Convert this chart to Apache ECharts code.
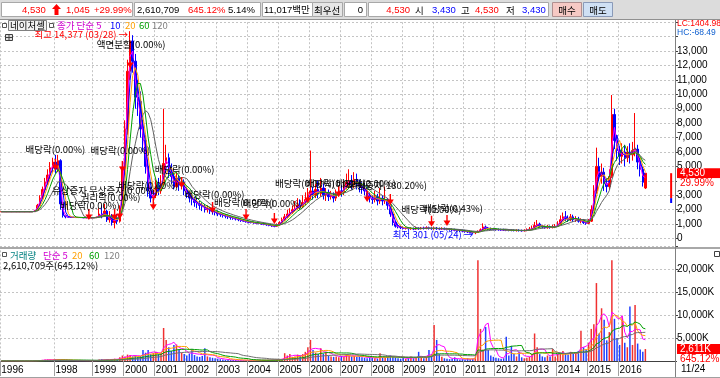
<!DOCTYPE html>
<html><head><meta charset="utf-8">
<script src="https://cdn.jsdelivr.net/npm/echarts@6/dist/echarts.min.js"></script>
<style>html,body{margin:0;padding:0;background:#fff}#c{width:720px;height:378px}</style>
</head><body><div id="c"></div>
<script>
// ---------- categories / tick labels ----------
const yearList = [1996,1997,1998,1999,2000,2001,2002,2003,2004,2005,2006,2007,2008,2009,2010,2011,2012,2013,2014,2015,2016];
const periodsPerYear = [10,11,15,12,12,12,12,12,12,12,12,12,12,12,12,12,12,12,12,12,11];
const labeledYears = [1996,1998,1999,2000,2001,2002,2003,2004,2005,2006,2007,2008,2009,2010,2011,2012,2013,2014,2015,2016];
const padPeriods = 11;
const lastDateLabel = '11/24';

// ---------- price (won) ----------
const priceOpen = [
1860,1860,1860,1860,1860,1860,1860,1860,1860,1860,
1860,1860,1860,1860,1950,2300,2800,3400,3900,4400,
4900,5300,4800,5400,2400,1600,1500,1480,1470,1460,
1450,1460,1450,1440,1450,1430,1440,1450,1480,1700,
1600,1900,1300,1500,1100,1400,1200,2100,4800,7600,
11600,13700,12300,9800,9500,7600,6800,5000,3300,2800,
3000,3700,3300,3800,5200,5600,4600,4300,3600,4200,
3700,3900,3300,3100,2800,2700,2500,2400,2300,2200,
2000,2100,1900,1850,1800,1700,1650,1600,1550,1500,
1450,1400,1350,1300,1250,1200,1150,1120,1100,1080,
1060,1040,1000,980,950,900,860,850,950,1100,
1300,1500,1700,1800,2000,2100,2300,2200,2500,2700,
3000,3300,3000,3400,3100,3500,3000,3200,2900,3000,
2800,3100,3300,3200,3600,3900,4000,3700,4100,3800,
3600,3500,3300,3000,2800,2700,2900,2600,2800,2600,
2700,2300,1700,1100,850,800,750,700,720,680,
700,660,700,680,720,700,740,700,680,720,
680,660,700,650,640,620,600,580,560,540,
520,480,460,430,400,420,500,600,800,700,
680,660,640,620,610,600,590,580,570,560,
550,560,550,540,560,600,650,700,900,1000,
850,800,750,800,760,800,850,1000,1300,1500,
1400,1300,1500,1300,1350,1200,1250,1100,1050,1200,
2000,3300,5000,4300,4600,3800,3600,4300,8600,6800,
6100,5700,6000,5600,6000,5800,6100,6200,5300,4800,
3500];
const priceClose = [
1860,1860,1860,1860,1860,1860,1860,1860,1860,1860,
1860,1860,1860,1950,2300,2800,3400,3900,4400,4900,
5300,4800,5400,2400,1600,1500,1480,1470,1460,1450,
1460,1450,1440,1450,1430,1440,1450,1480,1700,1600,
1900,1300,1500,1100,1400,1200,2100,4800,7600,11600,
13700,12300,9800,9500,7600,6800,5000,3300,2800,3000,
3700,3300,3800,5200,5600,4600,4300,3600,4200,3700,
3900,3300,3100,2800,2700,2500,2400,2300,2200,2000,
2100,1900,1850,1800,1700,1650,1600,1550,1500,1450,
1400,1350,1300,1250,1200,1150,1120,1100,1080,1060,
1040,1000,980,950,900,860,850,950,1100,1300,
1500,1700,1800,2000,2100,2300,2200,2500,2700,3000,
3300,3000,3400,3100,3500,3000,3200,2900,3000,2800,
3100,3300,3200,3600,3900,4000,3700,4100,3800,3600,
3500,3300,3000,2800,2700,2900,2600,2800,2600,2700,
2300,1700,1100,850,800,750,700,720,680,700,
660,700,680,720,700,740,700,680,720,680,
660,700,650,640,620,600,580,560,540,520,
480,460,430,400,420,500,600,800,700,680,
660,640,620,610,600,590,580,570,560,550,
560,550,540,560,600,650,700,900,1000,850,
800,750,800,760,800,850,1000,1300,1500,1400,
1300,1500,1300,1350,1200,1250,1100,1050,1200,2000,
3300,5000,4300,4600,3800,3600,4300,8600,6800,6100,
5700,6000,5600,6000,5800,6100,6200,5300,4800,3900,
4530];
const priceLow = [
1860,1860,1860,1860,1860,1860,1860,1860,1860,1860,
1860,1860,1860,1860,1900,2250,2700,3300,3700,4100,
4600,4500,4600,2000,1450,1400,1430,1440,1420,1420,
1420,1420,1410,1400,1400,1400,1410,1420,1450,1400,
1500,1150,1100,900,700,1000,1100,2000,4500,7200,
11000,11500,9000,8500,7000,6000,4500,2900,2500,2400,
2800,3000,3100,3600,4700,4200,3800,3400,3500,3300,
3400,3000,2800,2500,2300,2200,2100,2000,1900,1800,
1800,1700,1650,1600,1550,1500,1450,1400,1350,1300,
1300,1250,1200,1150,1150,1100,1050,1050,1020,1000,
980,950,920,880,850,800,780,800,900,1050,
1200,1400,1550,1700,1850,2000,2000,2100,2300,2500,
2700,2700,2800,2800,2900,2700,2600,2600,2700,2500,
2600,2900,2900,3000,3400,3500,3400,3500,3400,3200,
3100,3000,2700,2500,2400,2500,2300,2400,2300,2400,
2000,1500,900,750,700,650,620,620,600,600,
580,600,600,620,620,640,620,600,600,600,
580,600,580,560,540,520,500,480,450,430,
400,380,350,320,301,400,450,550,600,600,
580,560,540,540,530,520,510,500,500,490,
480,480,470,480,500,550,600,650,800,750,
700,680,680,680,700,720,800,950,1200,1200,
1150,1200,1150,1150,1100,1050,1000,950,1000,1150,
1900,3100,4000,3800,3300,3200,3400,4200,6200,5400,
5100,5200,5000,5300,5200,5400,5700,4800,4300,3600,
3430];
const priceHigh = [
1860,1860,1860,1860,1860,1860,1860,1860,1860,1860,
1860,1860,1860,1980,2400,3000,3600,4200,4800,5300,
5600,5800,5800,5500,2500,1650,1520,1500,1500,1480,
1490,1480,1470,1470,1470,1460,1480,1520,2100,2300,
2400,2000,1900,1700,1500,1700,2300,5100,8200,12400,
14377,14100,12800,11000,10200,8200,7200,5400,3600,3400,
4100,4200,4400,9000,6500,5900,5200,4800,4600,4400,
4200,4100,3600,3300,3000,2900,2800,2600,2500,2400,
2300,2200,2000,2100,1950,1800,1750,1700,1650,1600,
1550,1500,1450,1400,1350,1300,1250,1200,1180,1150,
1130,1100,1080,1050,1000,950,920,1050,1200,1450,
1700,2000,2100,2300,2600,2800,2700,3000,3200,3500,
6100,3600,3800,4000,4200,3800,3500,3400,3300,3200,
3400,3600,3700,4000,4500,4800,4400,4600,4500,4100,
3900,3800,3600,3200,3000,3300,3100,3500,3000,3600,
2800,2400,1800,1200,950,900,850,800,780,780,
760,820,780,800,820,850,820,780,820,800,
760,780,760,740,720,700,680,650,640,620,
600,560,520,500,480,560,700,1050,900,800,
760,740,720,700,680,680,660,650,640,630,
640,640,620,640,700,800,900,1150,1280,1100,
950,900,950,900,950,1000,1200,1600,1800,1900,
1600,1700,1650,1550,1500,1400,1350,1200,1350,2300,
3700,6300,5600,5200,4900,4200,4800,9950,9000,7200,
6400,6600,6500,6400,6600,6700,8700,6500,5500,5000,
4530];

// ---------- volume (thousand shares) ----------
const volumeK = [
20,20,20,20,20,20,20,20,20,20,
20,20,20,100,150,200,250,300,350,300,
250,400,300,300,200,100,80,80,80,80,
80,80,80,80,80,80,100,150,300,400,
300,350,250,400,500,400,800,1200,1000,1400,
1300,1000,1200,900,1100,2400,1800,2400,1500,1700,
2000,1500,1800,7200,4600,3000,2200,3500,3600,2500,
1800,1500,1200,1600,2600,1300,1000,900,1100,2800,
1000,800,700,600,500,400,300,250,250,200,
200,200,150,150,150,150,150,150,150,150,
150,150,200,200,200,250,300,350,400,500,
1700,1200,1500,900,1000,1400,1200,1500,2000,3000,
4600,2400,1800,1500,2800,1600,2000,1200,1000,900,
1000,800,1100,900,1500,1200,1000,1100,900,1000,
800,700,600,800,700,600,500,1700,800,700,
900,1200,1000,800,600,500,700,500,600,1000,
600,700,2000,800,600,1000,2400,1500,7850,4600,
1500,900,600,500,400,500,800,400,300,400,
300,600,400,500,800,22000,7000,2500,7400,2400,
1200,900,700,600,500,600,5300,1200,3300,1500,
1000,2000,800,600,700,900,1500,6000,3000,1500,
1000,800,1200,1000,2600,1000,1500,1800,2200,1600,
1400,2000,1500,1800,2200,6600,3000,2500,4000,7000,
8000,17000,6000,11500,9000,4500,6300,22000,9200,5000,
3500,9700,4000,3000,11900,3500,12200,3800,2500,2000,
2611];

// ---------- today range marker ----------
const rangeMarkerLow = 2460, rangeMarkerMid = 2800, rangeMarkerHigh = 4530;

// ---------- header values ----------
const hdr = {price:'4,530', diff:'1,045', pct:'+29.99%', vol:'2,610,709', volPct:'645.12%', turn:'5.14%',
  amount:'11,017백만', best:'0', cur:'4,530', open:'3,430', high:'4,530', low:'3,430', volBadge:'2,611K'};
const priceHighNote = '최고 14,377 (03/28) →';
const priceLowNote = '최저 301 (05/24) →';
const highIdx = 50, lowIdx = 184;

// ---------- annotations (date index, value at arrow tip, text) ----------
const annotIndex = [21,47,50,34,44,46,59,70,82,95,106,119,131,142,151,167,173];
const annotValue = [4750,4610,11820,1280,1280,1350,2000,3500,1770,1280,1000,2460,2880,2530,2320,820,870];
const annotText = ['배당락(0.00%)','배당락(0.00%)','액면분할(0.00%)','배당락(0.00%)','권리락(0.00%)','유상증자 무상증자(0.00%)',
 '배당락(0.00%)','배당락(0.00%)','배당락(0.00%)','배당락(0.00%)','배당락(0.00%)','배당락(0.00%)','배당락(0.00%)',
 '배당락(0.00%)','무상증자(180.20%)','배당락(0.00%)','배당락(0.43%)'];
const annotLabelOffset = [[0,-3],[-2,-4],[1,-6],[1,3],[-4,-5],[-15,-11],[-5,-7],[3,-1],[2,-1],[-2,0],[-2,-3],[-3,-2],[-3,4],[-1,-1],[-3,-2],[0,0],[6,0]];

// ---------- build ----------
const categories = [];
const yearStart = {};
yearList.forEach((y,k)=>{ yearStart[y]=categories.length; for(let m=0;m<periodsPerYear[k];m++) categories.push(y+'-'+(m+1)); });
for (let p=0;p<padPeriods;p++) categories.push('pad'+p);
const labelSet = new Set(labeledYears.map(y=>yearStart[y]));
const isYear = (i)=>labelSet.has(i);

function sma(src, span){ return src.map((_,i)=>{ const s=Math.max(0,i-span+1); let t=0; for(let k=s;k<=i;k++) t+=src[k]; return Math.round(t/(i-s+1)); }); }

const candleData = priceOpen.map((o,i)=>[o, priceClose[i], priceLow[i], priceHigh[i]]);
const volData = volumeK.map((v,i)=>({value:v, itemStyle:{color: priceClose[i]>=priceOpen[i] ? '#f03030' : '#2040ff'}}));
const rangeIdx = categories.length - 2;
const rngBase = categories.map((_,i)=> i===rangeIdx ? rangeMarkerLow : null);
const rngBlue = categories.map((_,i)=> i===rangeIdx ? rangeMarkerMid-rangeMarkerLow : null);
const rngRed = categories.map((_,i)=> i===rangeIdx ? rangeMarkerHigh-rangeMarkerMid : null);

const FONT = 'Noto Sans CJK KR';
const NUMFONT = '"Liberation Sans", "Noto Sans CJK KR"';
const priceMA = [{n:'5',span:2,c:'#ff00ff'},{n:'10',span:3,c:'#0000ff'},{n:'20',span:4,c:'#ffa000'},{n:'60',span:6,c:'#00a000'},{n:'120',span:10,c:'#606060'}];
const volMA = [{n:'5',span:5,c:'#ff00ff'},{n:'20',span:10,c:'#ffa000'},{n:'60',span:18,c:'#00a000'},{n:'120',span:30,c:'#707070'}];

const PX1000 = 14.42, Y0 = 238.5;      // price panel geometry
const VPX1000 = 4.585, VY0 = 361;      // volume panel geometry
const downArrow = 'path://M4,0 L6,0 L6,6 L10,6 L5,12 L0,6 L4,6 Z';

const markData = annotIndex.map((idx,k)=>({
  coord:[categories[idx], annotValue[k]], symbol: downArrow, symbolSize:[7,11], symbolOffset:[0,'-50%'],
  itemStyle:{color:'#ff0000'},
  label:{show:true, position:'top', distance:2, offset:annotLabelOffset[k], formatter:annotText[k], color:'#000', fontSize:9.5, fontFamily:FONT}
}));
markData.push({coord:[categories[highIdx], priceHigh[highIdx]], symbol:'circle', symbolSize:0.1, itemStyle:{color:'rgba(0,0,0,0)'},
  label:{show:true, position:'left', distance:2, offset:[0,3], formatter:priceHighNote, color:'#ff0000', fontSize:9.5, fontFamily:FONT}});
markData.push({coord:[categories[lowIdx], priceLow[lowIdx]], symbol:'circle', symbolSize:0.1, itemStyle:{color:'rgba(0,0,0,0)'},
  label:{show:true, position:'left', distance:2, formatter:priceLowNote, color:'#0000ff', fontSize:9.5, fontFamily:FONT}});

const gridLine = {show:true, lineStyle:{color:'#c4c4c4', type:[2,2], width:1}};
const series = [
  {type:'candlestick', xAxisIndex:0, yAxisIndex:0, data:candleData, barWidth:2, z:3,
   itemStyle:{color:'#ff0000', color0:'#0000ff', borderColor:'#ff0000', borderColor0:'#0000ff', borderWidth:1},
   markPoint:{data:markData, animation:false, z:10}},
];
priceMA.forEach(m=>series.push({type:'line', xAxisIndex:0, yAxisIndex:0, data:sma(priceClose,m.span), symbol:'none', z:4,
  lineStyle:{color:m.c, width:1}}));
series.push({type:'bar', xAxisIndex:0, yAxisIndex:0, stack:'rng', data:rngBase, barWidth:2, itemStyle:{color:'rgba(0,0,0,0)'}});
series.push({type:'bar', xAxisIndex:0, yAxisIndex:0, stack:'rng', data:rngBlue, barWidth:2, itemStyle:{color:'#0000ff'}});
series.push({type:'bar', xAxisIndex:0, yAxisIndex:0, stack:'rng', data:rngRed, barWidth:2, itemStyle:{color:'#ff0000'}});
series.push({type:'bar', xAxisIndex:1, yAxisIndex:1, data:volData, barWidth:1.5, z:3});
volMA.forEach(m=>series.push({type:'line', xAxisIndex:1, yAxisIndex:1, data:sma(volumeK,m.span), symbol:'none', z:4,
  lineStyle:{color:m.c, width:1}}));

const chart = echarts.init(document.getElementById('c'));
chart.setOption({
  animation:false,
  textStyle:{fontFamily:FONT},
  grid:[
    {left:0, right:45, top:Y0-15*PX1000, bottom:378-Y0, containLabel:false, outerBoundsMode:'none'},
    {left:0, right:45, top:VY0-25*VPX1000, bottom:378-VY0, containLabel:false, outerBoundsMode:'none'}
  ],
  xAxis:[
    {type:'category', gridIndex:0, data:categories, boundaryGap:true, axisLine:{show:false}, axisTick:{show:false}, axisLabel:{show:false},
     splitLine:Object.assign({interval:(i)=>isYear(i)}, gridLine)},
    {type:'category', gridIndex:1, data:categories, boundaryGap:true,
     axisLine:{show:true, lineStyle:{color:'#404040', width:1}},
     axisTick:{show:true, interval:(i)=>isYear(i), length:15, lineStyle:{color:'#a0a0a0'}},
     axisLabel:{show:true, interval:(i)=>isYear(i), formatter:(v)=>v.split('-')[0], align:'left', margin:4, fontSize:10, color:'#000', hideOverlap:false, fontFamily:'Liberation Sans'},
     splitLine:Object.assign({interval:(i)=>isYear(i)}, gridLine)}
  ],
  yAxis:[
    {type:'value', gridIndex:0, position:'right', min:0, max:15000, interval:1000,
     axisLine:{show:true, lineStyle:{color:'#808080'}}, axisTick:{show:true, length:3, lineStyle:{color:'#404040'}},
     axisLabel:{margin:2, fontSize:10, color:'#000', fontFamily:'Liberation Sans', formatter:(v)=> v>13000 ? '' : v.toLocaleString('en-US')},
     splitLine:gridLine},
    {type:'value', gridIndex:1, position:'right', min:0, max:25000, interval:5000,
     axisLine:{show:true, lineStyle:{color:'#808080'}}, axisTick:{show:true, length:3, lineStyle:{color:'#404040'}},
     axisLabel:{margin:2, fontSize:10, color:'#000', fontFamily:'Liberation Sans', formatter:(v)=> (v===0||v>20000) ? '' : v.toLocaleString('en-US')+'K'},
     splitLine:gridLine}
  ],
  series
});

// ---------- decorations ----------
function T(text,x,y,fill,size,align,fam){ return {type:'text', z:60, style:{text, x, y, fill:fill||'#000', fontSize:size||9.5, fontFamily:fam||FONT, align:align||'left', verticalAlign:'middle'}}; }
function N(text,x,y,fill,align){ return T(text,x,y,fill,9.5,align,NUMFONT); }
function R(x,y,w,h,fill,stroke,z){ return {type:'rect', z:z||50, shape:{x,y,width:w,height:h}, style:{fill:fill||'none', stroke:stroke||null, lineWidth:1}}; }
function L(x1,y1,x2,y2,stroke,w,z){ return {type:'line', z:z||55, shape:{x1,y1,x2,y2}, style:{stroke, lineWidth:w||1}}; }

const yLast = chart.convertToPixel({yAxisIndex:0}, priceClose[priceClose.length-1]);
const yVol = chart.convertToPixel({yAxisIndex:1}, volumeK[volumeK.length-1]);
const g = [
  // header
  R(0,0,720,19.5,'#dcdcdc',null,40),
  R(1.5,2.5,131,14,'#ffffff','#a8a8a8'), R(134.5,2.5,126,14,'#ffffff','#a8a8a8'),
  R(262.5,2.5,50,14,'#ffffff','#a8a8a8'), R(312.5,2.5,30,14,'#e6e6e6','#a8a8a8'),
  R(344.5,2.5,22,14,'#ffffff','#a8a8a8'), R(368.5,2.5,180,14,'#ffffff','#a8a8a8'),
  R(552.5,2.5,29,14,'#f6c9c4','#b09090'), R(583.5,2.5,29,14,'#cfe0f4','#8a9ab8'),
  N(hdr.price,22,10,'#ff0000'), {type:'polygon', z:60, shape:{points:[[56.5,4],[61,9],[58.5,9],[58.5,15],[54.5,15],[54.5,9],[52,9]]}, style:{fill:'#ff0000'}},
  N(hdr.diff,66,10,'#ff0000'), N(hdr.pct,94,10,'#ff0000'),
  N(hdr.vol,137,10,'#000'), N(hdr.volPct,188,10,'#ff0000'), N(hdr.turn,228,10,'#000'),
  N(hdr.amount,264,10,'#000'), T('최우선',314,10,'#000',9.5),
  N(hdr.best,363,10,'#000','right'),
  N(hdr.cur,410,10,'#ff0000','right'), T('시',415,10,'#000',9.5), N(hdr.open,432,10,'#0000ff'),
  T('고',461,10,'#000',9.5), N(hdr.high,475,10,'#ff0000'), T('저',506,10,'#000',9.5), N(hdr.low,522,10,'#0000ff'),
  T('매수',567,10,'#000',9.5,'center'), T('매도',598,10,'#000',9.5,'center'),
  L(0,19.5,720,19.5,'#909090',1),
  // price legend
  R(2.5,23.5,4,4,'#fff','#555'), R(8.5,20.5,38,10,'#f2f2f2','#808080'), T('네이처셀',10,25.5,'#000',9.5),
  R(49.5,23.5,4,4,'#fff','#555'),
  T('종가 단순 5',57,25.5,'#d000d0',9.5), T('10',110,25.5,'#0000ff',9.5), T('20',125,25.5,'#ffa000',9.5),
  T('60',139,25.5,'#00a000',9.5), T('120',152,25.5,'#808080',9.5),
  R(5.5,34.5,7,6,'#e0e0e0','#404040'), L(5.5,37.5,12.5,37.5,'#404040',1), L(9,34.5,9,40.5,'#404040',1),
  T('LC:1404.98',677,24,'#ff0000',8.5,'left','Liberation Sans'), T('HC:-68.49',677,32.5,'#1060d0',8.5,'left','Liberation Sans'),
  // panel separator + right axis line
  R(0,247,720,2,'#a8a8a8',null,52),
  L(675.5,20,675.5,377,'#808080',1),
  // volume legend
  R(2.5,252.5,4,4,'#fff','#555'),
  T('거래량',10,255,'#008080',9.5), T('단순 5',43,255,'#d000d0',9.5), T('20',72,255,'#ffa000',9.5),
  T('60',89,255,'#00a000',9.5), T('120',104,255,'#808080',9.5),
  T(hdr.vol+'주('+hdr.volPct+')',3,265,'#000',9.5),
  R(714.5,251.5,5,5,'#fff','#404040'),
  // price badge
  R(677,yLast-5,43,10,'#ff0000',null,58), T(hdr.cur,680,yLast,'#ffffff',10,'left','Liberation Sans'),
  R(677,yLast+5,43,10,'#ffffff',null,58), T(hdr.pct.replace('+',''),680,yLast+10,'#ff0000',10,'left','Liberation Sans'),
  // volume badge
  R(677,yVol-5,43,10,'#ff0000',null,58), T(hdr.volBadge,680,yVol,'#ffffff',10,'left','Liberation Sans'),
  R(677,yVol+5,43,9,'#ffffff',null,58), T(hdr.volPct,680,yVol+10,'#ff0000',10,'left','Liberation Sans'),
  // bottom band
  L(0,377.5,720,377.5,'#a0a0a0',1),
  T(lastDateLabel,681,369.5,'#000',10,'left','Liberation Sans')
];
chart.setOption({graphic:g});
</script>
</body></html>
